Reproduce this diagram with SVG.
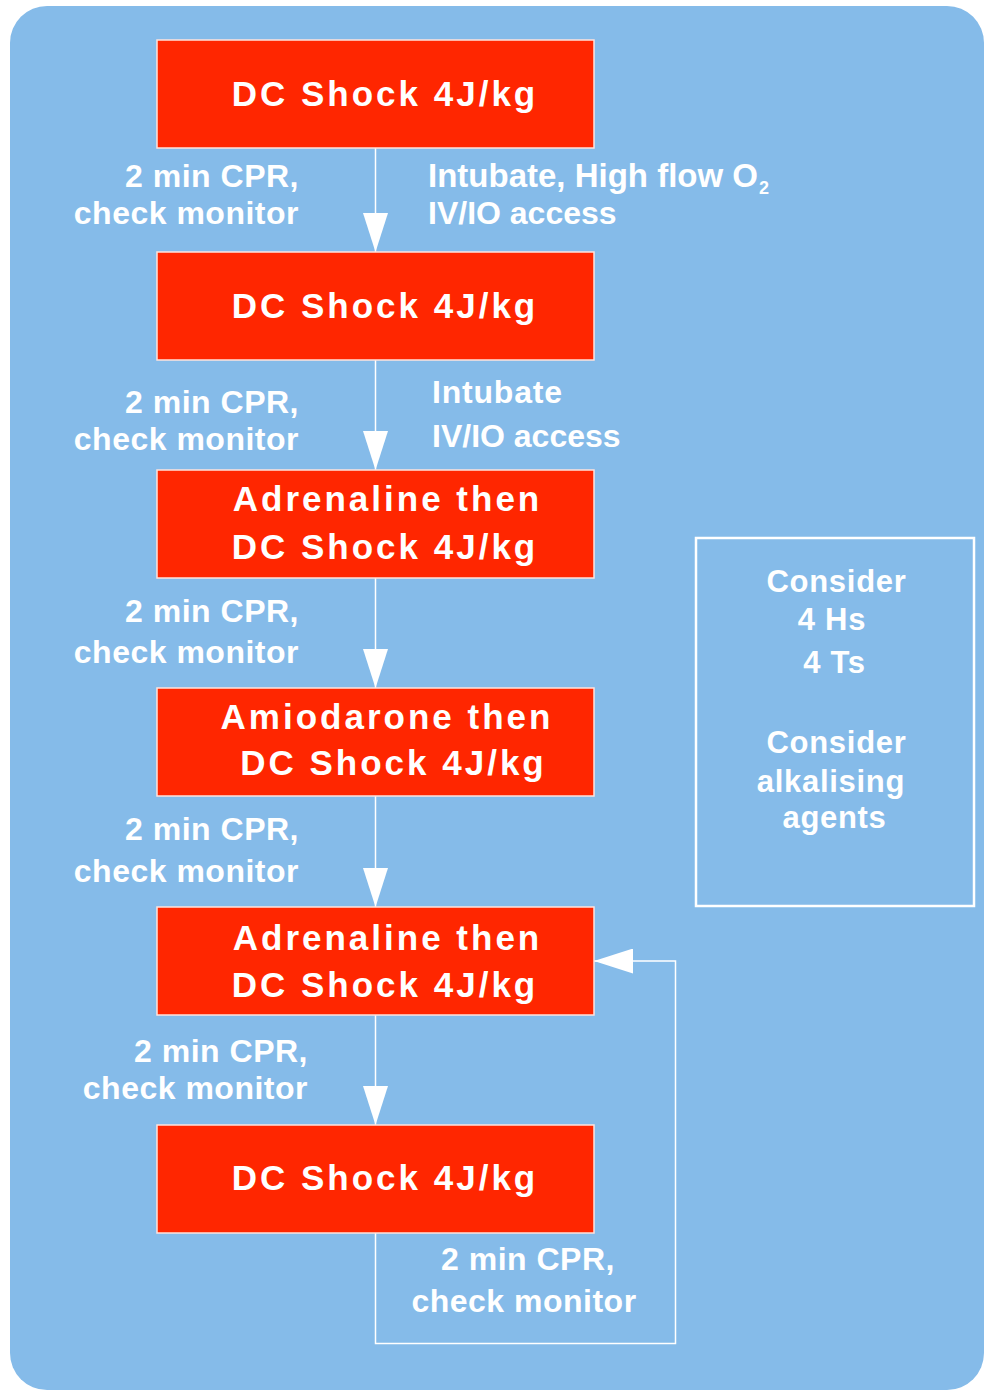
<svg xmlns="http://www.w3.org/2000/svg" width="985" height="1390" viewBox="0 0 985 1390">
  <style>
    text { font-family: "Liberation Sans", Arial, sans-serif; font-weight: bold; fill: #FFFFFF; }
    .box { fill: #FF2600; stroke: #FFE3DD; stroke-width: 1.5; }
    .bt { font-size: 35px; letter-spacing: 3px; text-anchor: middle; }
    .lbl { font-size: 32px; letter-spacing: 0.5px; text-anchor: end; }
    .lblc { font-size: 32px; letter-spacing: 0.5px; text-anchor: middle; }
    .rl { font-size: 32px; }
    .rl1 { font-size: 33px; }
    .sub { font-size: 18px; }
    .note { font-size: 31px; letter-spacing: 0.7px; text-anchor: middle; }
    .conn { fill: none; stroke: #FFFFFF; stroke-width: 1.5; }
  </style>
  <defs>
    <marker id="arrow" markerUnits="userSpaceOnUse" markerWidth="39" markerHeight="25" viewBox="0 0 39 25" refX="39" refY="12.5" orient="auto">
      <path d="M0,0 L39,12.5 L0,25 Z" fill="#FFFFFF"/>
    </marker>
  </defs>

  <rect id="background" x="10" y="6" width="974" height="1384" rx="37" ry="37" fill="#85BBE9"/>

  <g id="connectors">
    <line class="conn" x1="375.5" y1="148" x2="375.5" y2="252" marker-end="url(#arrow)"/>
    <line class="conn" x1="375.5" y1="360" x2="375.5" y2="470" marker-end="url(#arrow)"/>
    <line class="conn" x1="375.5" y1="578" x2="375.5" y2="688" marker-end="url(#arrow)"/>
    <line class="conn" x1="375.5" y1="796" x2="375.5" y2="907" marker-end="url(#arrow)"/>
    <line class="conn" x1="375.5" y1="1015" x2="375.5" y2="1125" marker-end="url(#arrow)"/>
    <polyline class="conn" points="375.5,1233 375.5,1343.5 675.5,1343.5 675.5,961 594,961" marker-end="url(#arrow)"/>
  </g>

  <g id="node1">
    <rect class="box" x="157" y="40" width="437" height="108"/>
    <text class="bt" x="385" y="106">DC Shock 4J/kg</text>
  </g>
  <g id="node2">
    <rect class="box" x="157" y="252" width="437" height="108"/>
    <text class="bt" x="385" y="318">DC Shock 4J/kg</text>
  </g>
  <g id="node3">
    <rect class="box" x="157" y="470" width="437" height="108"/>
    <text class="bt" x="387.5" y="511">Adrenaline then</text>
    <text class="bt" x="385" y="559">DC Shock 4J/kg</text>
  </g>
  <g id="node4">
    <rect class="box" x="157" y="688" width="437" height="108"/>
    <text class="bt" x="387" y="729">Amiodarone then</text>
    <text class="bt" x="393.5" y="775">DC Shock 4J/kg</text>
  </g>
  <g id="node5">
    <rect class="box" x="157" y="907" width="437" height="108"/>
    <text class="bt" x="387.5" y="950">Adrenaline then</text>
    <text class="bt" x="385" y="997">DC Shock 4J/kg</text>
  </g>
  <g id="node6">
    <rect class="box" x="157" y="1125" width="437" height="108"/>
    <text class="bt" x="385" y="1190">DC Shock 4J/kg</text>
  </g>

  <g id="labels">
    <text class="lbl" x="299" y="187">2 min CPR,</text>
    <text class="lbl" x="299" y="224">check monitor</text>
    <text class="rl1" x="428" y="187">Intubate, High flow O<tspan class="sub" dx="1" dy="7">2</tspan></text>
    <text class="rl" x="428" y="224">IV/IO access</text>

    <text class="lbl" x="299" y="413">2 min CPR,</text>
    <text class="lbl" x="299" y="450">check monitor</text>
    <text class="rl" x="432" y="403" letter-spacing="0.8">Intubate</text>
    <text class="rl" x="432" y="447">IV/IO access</text>

    <text class="lbl" x="299" y="622">2 min CPR,</text>
    <text class="lbl" x="299" y="663">check monitor</text>

    <text class="lbl" x="299" y="840">2 min CPR,</text>
    <text class="lbl" x="299" y="882">check monitor</text>

    <text class="lbl" x="308" y="1062">2 min CPR,</text>
    <text class="lbl" x="308" y="1099">check monitor</text>

    <text class="lblc" x="528" y="1270">2 min CPR,</text>
    <text class="lblc" x="524" y="1312">check monitor</text>
  </g>

  <g id="note">
    <rect x="696" y="538" width="278" height="368" fill="none" stroke="#FFFFFF" stroke-width="2.5"/>
    <text class="note" x="836.5" y="592">Consider</text>
    <text class="note" x="832" y="630">4 Hs</text>
    <text class="note" x="834.5" y="673">4 Ts</text>
    <text class="note" x="836.5" y="753">Consider</text>
    <text class="note" x="831" y="792">alkalising</text>
    <text class="note" x="834.5" y="828">agents</text>
  </g>
</svg>
